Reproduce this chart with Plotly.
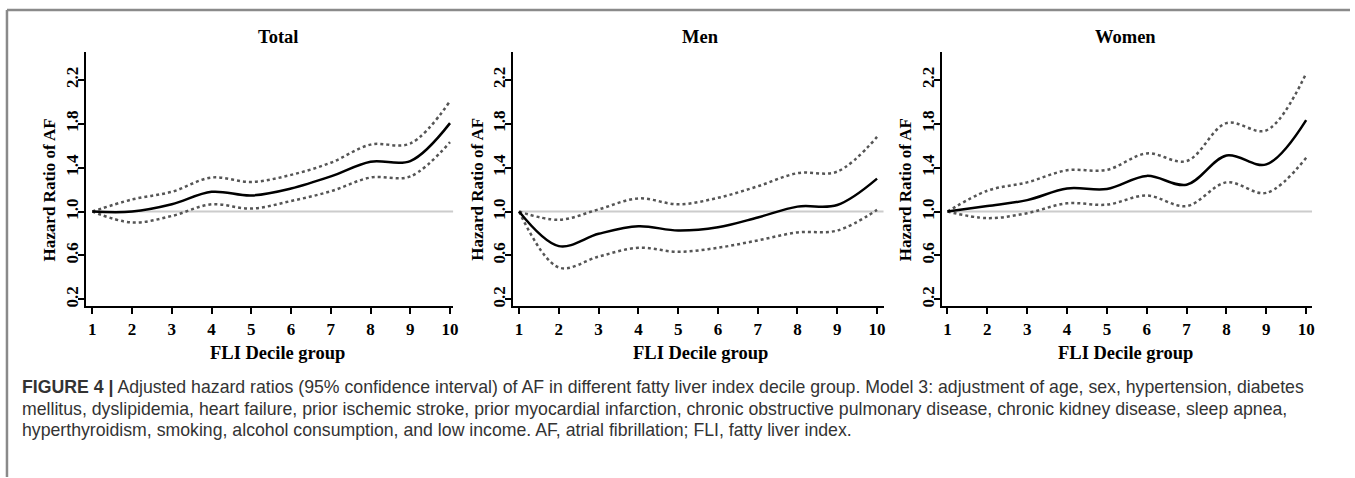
import plotly.graph_objects as go

# ---------------- data ----------------
deciles = [1, 2, 3, 4, 5, 6, 7, 8, 9, 10]

total_hr    = [1.00, 1.00, 1.066, 1.18, 1.146, 1.21, 1.32, 1.454, 1.46, 1.806]
total_lower = [1.00, 0.90, 0.96, 1.066, 1.027, 1.096, 1.185, 1.31, 1.32, 1.633]
total_upper = [1.00, 1.11, 1.18, 1.31, 1.27, 1.334, 1.445, 1.61, 1.62, 2.006]

men_hr    = [1.00, 0.685, 0.797, 0.866, 0.827, 0.857, 0.946, 1.045, 1.06, 1.30]
men_lower = [1.00, 0.49, 0.59, 0.67, 0.633, 0.67, 0.737, 0.81, 0.827, 1.015]
men_upper = [1.00, 0.925, 1.02, 1.12, 1.066, 1.125, 1.23, 1.35, 1.364, 1.68]

women_hr    = [1.00, 1.05, 1.104, 1.21, 1.206, 1.325, 1.245, 1.51, 1.43, 1.833]
women_lower = [1.00, 0.94, 0.985, 1.075, 1.063, 1.146, 1.05, 1.266, 1.17, 1.49]
women_upper = [1.00, 1.19, 1.266, 1.376, 1.38, 1.53, 1.46, 1.806, 1.74, 2.26]

panel_titles = ["Total", "Men", "Women"]
y_ticks = [0.2, 0.6, 1.0, 1.4, 1.8, 2.2]
y_tick_labels = ["0.2", "0.6", "1.0", "1.4", "1.8", "2.2"]
x_tick_labels = ["1", "2", "3", "4", "5", "6", "7", "8", "9", "10"]
reference_hr = 1.0
y_title = "Hazard Ratio of AF"
x_title = "FLI Decile group"

caption_lines = [
    "<b>FIGURE 4 |</b> Adjusted hazard ratios (95% confidence interval) of AF in different fatty liver index decile group. Model 3: adjustment of age, sex, hypertension, diabetes",
    "mellitus, dyslipidemia, heart failure, prior ischemic stroke, prior myocardial infarction, chronic obstructive pulmonary disease, chronic kidney disease, sleep apnea,",
    "hyperthyroidism, smoking, alcohol consumption, and low income. AF, atrial fibrillation; FLI, fatty liver index.",
]

series = [
    (total_hr, total_lower, total_upper),
    (men_hr, men_lower, men_upper),
    (women_hr, women_lower, women_upper),
]

# ---------------- layout geometry (pixels) ----------------
W, H = 1355, 478
def px_x(p):
    return p / W
def px_y(p):
    return 1 - p / H

# (left px, right px, x range, title centre px)
panels = [
    (86, 455, [0.832, 10.083], 279),
    (515, 887, [0.85, 10.168], 703),
    (945, 1317, [0.85, 10.15], 1130),
]
y_top_px, y_bot_px = 52, 307
y_range = [0.136, 2.455]

serif = "Liberation Serif, Times New Roman, serif"

fig = go.Figure()
shapes = []
annotations = []

for i, ((hr, lo, up), (lp, rp, xr, cx), title) in enumerate(zip(series, panels, panel_titles)):
    n = "" if i == 0 else str(i + 1)
    xa, ya = "x" + n, "y" + n
    for vals in (lo, up):
        fig.add_trace(go.Scatter(
            x=deciles, y=vals, mode="lines", xaxis=xa, yaxis=ya,
            line=dict(color="#555555", width=2.5, dash="dot", shape="spline", smoothing=1.0),
            showlegend=False, hoverinfo="skip"))
    fig.add_trace(go.Scatter(
        x=deciles, y=hr, mode="lines", xaxis=xa, yaxis=ya,
        line=dict(color="#000000", width=2.5, shape="spline", smoothing=1.0),
        showlegend=False))

    axis_common = dict(showline=True, linecolor="black", linewidth=2,
                       ticks="outside", ticklen=6, tickwidth=2, tickcolor="black",
                       showgrid=False, zeroline=False,
                       tickfont=dict(family=serif, size=17, color="black"))
    fig.layout["xaxis" + n] = dict(
        domain=[px_x(lp), px_x(rp)], range=xr, anchor=ya,
        tickmode="array", tickvals=deciles, ticktext=["<b>%s</b>" % t for t in x_tick_labels],
        **axis_common)
    fig.layout["yaxis" + n] = dict(
        domain=[px_y(y_bot_px), px_y(y_top_px)], range=y_range, anchor=xa,
        tickmode="array", tickvals=y_ticks, ticktext=["<b>%s</b>" % t for t in y_tick_labels],
        tickangle=-90, ticklabelstandoff=-7, **axis_common)

    shapes.append(dict(type="line", xref=xa, yref=ya, x0=deciles[0], x1=xr[1],
                       y0=reference_hr, y1=reference_hr, layer="below",
                       line=dict(color="#cccccc", width=2)))

    annotations.append(dict(text="<b>%s</b>" % title, xref="paper", yref="paper",
                            x=px_x(cx), y=px_y(37), xanchor="center", yanchor="middle",
                            showarrow=False, font=dict(family=serif, size=18.5, color="black")))
    annotations.append(dict(text="<b>%s</b>" % x_title, xref="paper", yref="paper",
                            x=px_x(cx), y=px_y(354), xanchor="center", yanchor="middle",
                            showarrow=False, font=dict(family=serif, size=18.5, color="black")))
    annotations.append(dict(text="<b>%s</b>" % y_title, xref="paper", yref="paper",
                            x=px_x(lp - 36), y=px_y(190), xanchor="center", yanchor="middle",
                            textangle=-90, showarrow=False,
                            font=dict(family=serif, size=17, color="black")))

# caption
for k, line in enumerate(caption_lines):
    annotations.append(dict(text=line, xref="paper", yref="paper",
                            x=px_x(20), y=px_y(388 + 21.5 * k), xanchor="left", yanchor="middle",
                            showarrow=False, align="left",
                            font=dict(family="Liberation Sans, Arial, sans-serif", size=17.7, color="#333333")))

# frame lines (top and left)
shapes.append(dict(type="line", xref="paper", yref="paper", x0=px_x(7), x1=1,
                   y0=px_y(10), y1=px_y(10), line=dict(color="#8a8a8a", width=2.5)))
shapes.append(dict(type="line", xref="paper", yref="paper", x0=px_x(7), x1=px_x(7),
                   y0=px_y(10), y1=0, line=dict(color="#8a8a8a", width=2.5)))

fig.update_layout(width=W, height=H, margin=dict(l=0, r=0, t=0, b=0),
                  paper_bgcolor="white", plot_bgcolor="white",
                  shapes=shapes, annotations=annotations, showlegend=False)

fig.write_html("out.html", config={"displayModeBar": False},
               post_script="document.body.style.margin='0px';")
